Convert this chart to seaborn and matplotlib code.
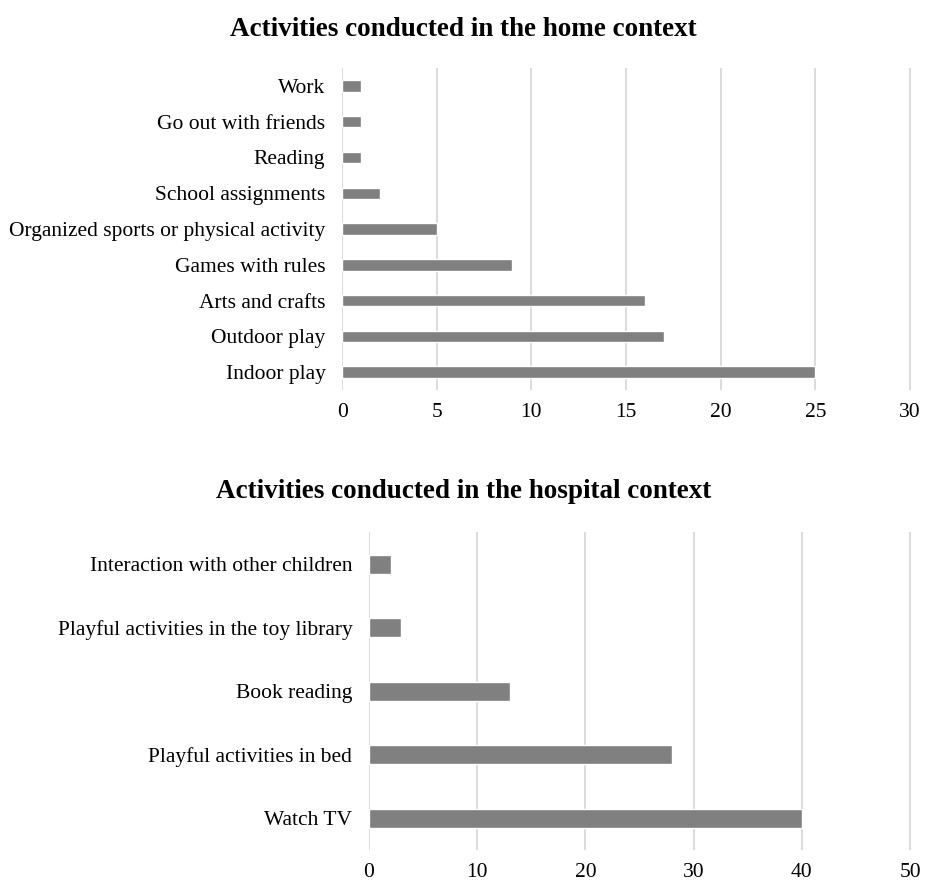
"""
Activities conducted in the home and hospital contexts
"""
import pandas as pd
import matplotlib.pyplot as plt
import seaborn as sns

home_activities = [
    "Work", "Go out with friends", "Reading", "School assignments",
    "Organized sports or physical activity", "Games with rules",
    "Arts and crafts", "Outdoor play", "Indoor play",
]
home_counts = [1, 1, 1, 2, 5, 9, 16, 17, 25]
home_ticks = [0, 5, 10, 15, 20, 25, 30]

hospital_activities = [
    "Interaction with other children", "Playful activities in the toy library",
    "Book reading", "Playful activities in bed", "Watch TV",
]
hospital_counts = [2, 3, 13, 28, 40]
hospital_ticks = [0, 10, 20, 30, 40, 50]

sns.set_style("white")
plt.rcParams["font.family"] = ["Liberation Serif", "DejaVu Serif"]

BAR_COLOR = "#808080"
GRID_COLOR = "#d9d9d9"

home = pd.DataFrame({"activity": home_activities, "count": home_counts})
hospital = pd.DataFrame({"activity": hospital_activities, "count": hospital_counts})

fig = plt.figure(figsize=(9.27, 8.85), dpi=100)
ax_top = fig.add_axes([0.369, 0.5593, 0.615, 0.3638])
ax_bot = fig.add_axes([0.398, 0.0395, 0.586, 0.3590])


def draw(ax, df, ticks, width, title, title_y):
    sns.barplot(data=df, x="count", y="activity", orient="h", ax=ax,
                color=BAR_COLOR, width=width, saturation=1)
    ax.set_xlim(ticks[0], ticks[-1] * 1.004)
    ax.set_xticks(ticks)
    ax.set_ylim(len(df) - 0.5, -0.5)
    ax.xaxis.grid(True, color=GRID_COLOR, linewidth=1.3)
    ax.set_axisbelow(True)
    for s in ax.spines.values():
        s.set_visible(False)
    ax.tick_params(axis="both", length=0, labelsize=15.5, colors="black")
    ax.tick_params(axis="x", pad=9.5)
    ax.tick_params(axis="y", pad=12)
    ax.set_xlabel("")
    ax.set_ylabel("")
    fig.text(0.5, title_y, title, ha="center", va="center",
             fontsize=19.5, fontweight="bold", color="black")


draw(ax_top, home, home_ticks, 0.32,
     "Activities conducted in the home context", 1 - 29 / 885)
draw(ax_bot, hospital, hospital_ticks, 0.3,
     "Activities conducted in the hospital context", 1 - 492 / 885)

plt.savefig("out.png", dpi=100)
plt.close()
